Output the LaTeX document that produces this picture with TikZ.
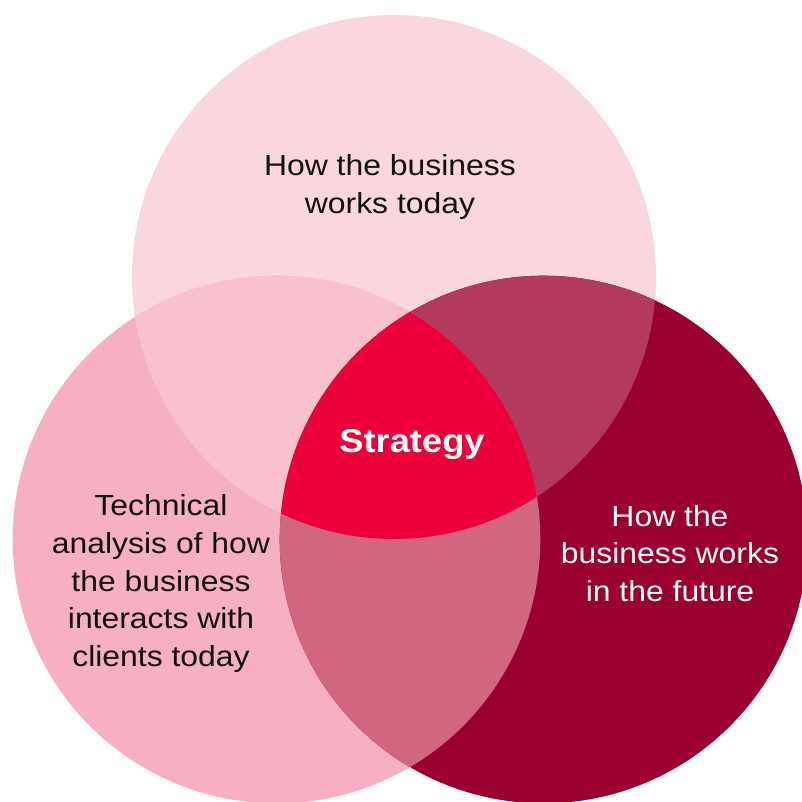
\documentclass[tikz,border=0pt]{standalone}
\usepackage{fontspec}
\setmainfont{Liberation Sans}[FakeStretch=1.1]
\definecolor{ctop}{HTML}{FAD7DF}
\definecolor{cleft}{HTML}{F7B0C1}
\definecolor{cright}{HTML}{990030}
\definecolor{ctl}{HTML}{F9C1CE}
\definecolor{ctr}{HTML}{B33A5E}
\definecolor{clr}{HTML}{D1667F}
\definecolor{cmid}{HTML}{EB0039}
\definecolor{ink}{HTML}{111111}
\tikzset{
  lbl/.style={inner sep=0pt, align=center, font=\fontsize{29}{37.6}\selectfont, text=ink},
  lblw/.style={lbl, text=white},
  core/.style={inner sep=0pt, font=\bfseries\fontsize{33}{40}\selectfont, text=white}
}
\begin{document}
\begin{tikzpicture}[x=1pt,y=-1pt]
\useasboundingbox (0,0) rectangle (802,801);
\coordinate (T) at (394,277);
\coordinate (L) at (276.5,539.5);
\coordinate (R) at (543.5,539.5);
% single circles
\fill[ctop] (T) circle (262pt);
\fill[cleft] (L) circle (263.8pt);
\fill[cright] (R) circle (263.8pt);
% pairwise overlaps
\begin{scope}
  \clip (T) circle (262pt);
  \fill[ctl] (L) circle (263.8pt);
  \fill[ctr] (R) circle (263.8pt);
\end{scope}
\begin{scope}
  \clip (L) circle (263.8pt);
  \fill[clr] (R) circle (263.8pt);
  \clip (R) circle (263.8pt);
  \fill[cmid] (T) circle (262pt);
\end{scope}
% labels
\node[lbl] (top) at (390,187) {How the business\\works today};
\node[lbl] (left) at (161,583.5) {Technical\\analysis of how\\the business\\interacts with\\clients today};
\node[lblw] (right) at (670,553.5) {How the\\business works\\in the future};
\node[core] (mid) at (412,444.5) {Strategy};
\end{tikzpicture}
\end{document}
